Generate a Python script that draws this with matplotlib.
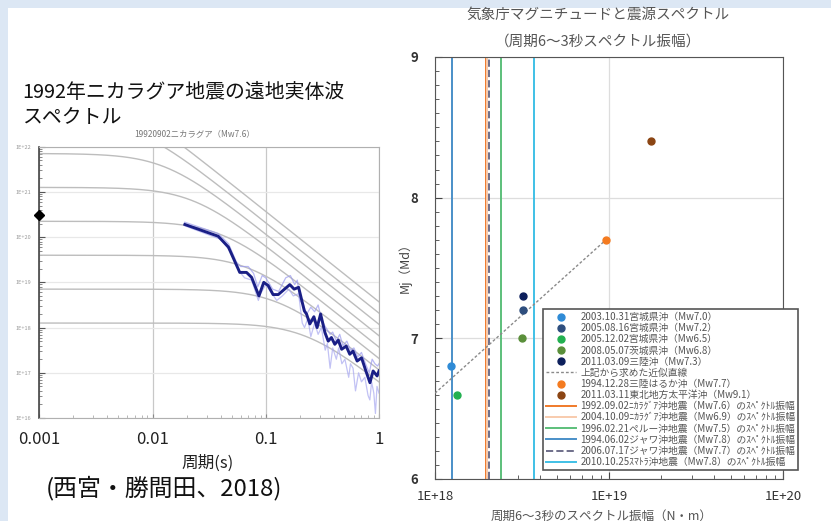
import numpy as np
import matplotlib
matplotlib.use("Agg")
import matplotlib.pyplot as plt
from matplotlib.lines import Line2D
from matplotlib.patches import Rectangle
from matplotlib.ticker import FixedLocator, NullFormatter, LogLocator

plt.rcParams["font.family"] = ["Noto Sans CJK JP", "DejaVu Sans"]

W, H = 831, 521

# --- left panel: teleseismic body-wave spectrum, 1992 Nicaragua ---
# reference omega-square source curves (flat level = log10 M0, corner period)
ref_mw = [6.0, 6.5, 7.0, 7.5, 8.0, 8.5, 9.0, 9.5]
ref_level = [18.1, 18.85, 19.6, 20.35, 21.1, 21.85, 22.6, 23.35]
ref_corner = [0.229, 0.129, 0.0724, 0.0407, 0.0229, 0.0129, 0.00724, 0.00407]

# observed spectrum (smoothed), period [s] and log10 amplitude
obs_period = [0.0193, 0.038, 0.0468, 0.057, 0.0589, 0.0676, 0.075, 0.087, 0.096,
              0.105, 0.116, 0.129, 0.163, 0.178, 0.195, 0.219, 0.229, 0.245,
              0.266, 0.284, 0.305, 0.333, 0.356, 0.380, 0.407, 0.437, 0.468,
              0.513, 0.552, 0.589, 0.641, 0.701, 0.766, 0.832, 0.887, 0.962, 1.0]
obs_amp = [20.28, 20.02, 19.78, 19.30, 19.22, 19.22, 19.11, 18.70, 19.0,
           18.93, 18.73, 18.73, 18.95, 18.85, 18.89, 18.37, 18.30, 18.08,
           18.24, 18.0, 18.30, 17.89, 17.70, 17.78, 17.63, 17.72, 17.52,
           17.59, 17.41, 17.48, 17.26, 17.33, 17.04, 16.78, 17.04, 16.93, 17.04]

# raw component spectra
raw1_period = [0.0193, 0.038, 0.047, 0.055, 0.06, 0.07, 0.078, 0.085, 0.093, 0.1,
               0.115, 0.13, 0.15, 0.165, 0.18, 0.19, 0.2, 0.215, 0.23, 0.25,
               0.27, 0.29, 0.31, 0.33, 0.35, 0.37, 0.39, 0.42, 0.45, 0.48,
               0.52, 0.56, 0.6, 0.65, 0.7, 0.76, 0.82, 0.87, 0.92, 0.97, 1.0]
raw1_amp = [20.33, 20.08, 19.85, 19.45, 19.35, 19.35, 19.2, 18.9, 19.15, 19.1,
            18.85, 18.8, 19.1, 19.15, 18.95, 19.05, 18.6, 18.5, 18.3, 18.45,
            18.35, 18.5, 18.2, 18.05, 17.95, 17.85, 17.9, 17.7, 17.85, 17.6,
            17.7, 17.5, 17.55, 17.35, 17.45, 17.2, 17.0, 17.3, 17.2, 17.15, 17.2]
raw2_period = [0.0193, 0.04, 0.05, 0.058, 0.065, 0.075, 0.086, 0.09, 0.1, 0.11,
               0.125, 0.14, 0.16, 0.175, 0.195, 0.21, 0.22, 0.235, 0.25, 0.27,
               0.29, 0.31, 0.335, 0.35, 0.37, 0.39, 0.42, 0.44, 0.47, 0.5,
               0.54, 0.56, 0.59, 0.62, 0.66, 0.7, 0.75, 0.8, 0.83, 0.86,
               0.9, 0.93, 0.96, 1.0]
raw2_amp = [20.25, 19.95, 19.65, 19.25, 19.1, 19.05, 18.6, 18.75, 18.95, 18.8,
            18.6, 18.7, 18.85, 18.7, 18.75, 18.1, 18.0, 18.2, 17.8, 18.1,
            17.85, 18.0, 17.5, 17.65, 17.1, 17.55, 17.3, 17.55, 17.2, 17.3,
            16.9, 17.2, 17.1, 16.6, 17.0, 16.8, 16.9, 16.5, 16.4, 16.8,
            16.55, 16.1, 16.7, 16.55]

mw_nicaragua = 7.6

# --- right panel: JMA magnitude vs spectral amplitude (6-3 s) ---
pt_labels = ["2003.10.31宮城県沖（Mw7.0）", "2005.08.16宮城県沖（Mw7.2）",
             "2005.12.02宮城県沖（Mw6.5）", "2008.05.07茨城県沖（Mw6.8）",
             "2011.03.09三陸沖（Mw7.3）"]
pt_amp = [1.24e18, 3.19e18, 1.34e18, 3.15e18, 3.19e18]
pt_mj = [6.8, 7.2, 6.6, 7.0, 7.3]
pt_colors = ["#2f8bd6", "#2e4e7e", "#22b050", "#5a8f3a", "#0d1f5c"]

fit_amp = [1.0e18, 9.6e18]
fit_mj = [6.61, 7.7]

big_labels = ["1994.12.28三陸はるか沖（Mw7.7）", "2011.03.11東北地方太平洋沖（Mw9.1）"]
big_amp = [9.6e18, 1.74e19]
big_mj = [7.7, 8.4]
big_colors = ["#f47b20", "#8b4513"]

vl_labels = ["1992.09.02ﾆｶﾗｸﾞｱ沖地震（Mw7.6）のｽﾍﾟｸﾄﾙ振幅",
             "2004.10.09ﾆｶﾗｸﾞｱ沖地震（Mw6.9）のｽﾍﾟｸﾄﾙ振幅",
             "1996.02.21ペルー沖地震（Mw7.5）のｽﾍﾟｸﾄﾙ振幅",
             "1994.06.02ジャワ沖地震（Mw7.8）のｽﾍﾟｸﾄﾙ振幅",
             "2006.07.17ジャワ沖地震（Mw7.7）のｽﾍﾟｸﾄﾙ振幅",
             "2010.10.25ｽﾏﾄﾗ沖地震（Mw7.8）のｽﾍﾟｸﾄﾙ振幅"]
vl_amp = [1.96e18, 2.0e18, 2.39e18, 1.25e18, 2.04e18, 3.72e18]
vl_colors = ["#f07a2a", "#f8cbad", "#5cbf7a", "#4a8fc8", "#6f6f8a", "#3fc0e6"]
vl_styles = ["-", "-", "-", "-", "--", "-"]


def fx(x):
    return x / W


def fy(y):
    return 1 - y / H


fig = plt.figure(figsize=(W / 100, H / 100), dpi=100, facecolor="#dce7f4")
fig.patches.append(Rectangle((fx(8), 0), 1, fy(8), transform=fig.transFigure,
                             facecolor="white", edgecolor="none", zorder=-10))

# left panel
ax = fig.add_axes([fx(39.3), fy(418), fx(379) - fx(39.3), fy(146.7) - fy(418)])
ax.set_xscale("log")
ax.set_yscale("log")
ax.set_xlim(0.001, 1)
ax.set_ylim(1e16, 1e22)

T = np.logspace(-3, 0, 400)
for lev, tc in zip(ref_level, ref_corner):
    ax.plot(T, 10 ** lev / (1 + (T / tc) ** 2), color="#bdbdbd", lw=1.0, zorder=2)

ax.plot(raw1_period, 10 ** np.array(raw1_amp), color="#9a9aee", lw=0.9, alpha=0.7, zorder=3)
ax.plot(raw2_period, 10 ** np.array(raw2_amp), color="#a8a8f0", lw=0.9, alpha=0.7, zorder=3)
ax.plot(obs_period, 10 ** np.array(obs_amp), color="#1a1f86", lw=2.1, zorder=4)
ax.plot([0.001], [10 ** (1.5 * mw_nicaragua + 9.1)], marker="D", ms=5, color="black",
        clip_on=False, zorder=6)

ax.set_xticks([0.001, 0.01, 0.1, 1])
ax.set_xticklabels(["0.001", "0.01", "0.1", "1"], fontsize=12, color="#222222")
ax.xaxis.set_minor_locator(LogLocator(base=10, subs=np.arange(2, 10)))
ax.xaxis.set_minor_formatter(NullFormatter())
ax.set_yticks([10.0 ** k for k in range(16, 23)])
ax.set_yticklabels(["1E+%d" % k for k in range(16, 23)], fontsize=4, color="#999999")
ax.yaxis.set_minor_locator(LogLocator(base=10, subs=np.arange(2, 10)))
ax.yaxis.set_minor_formatter(NullFormatter())
ax.tick_params(axis="x", which="major", direction="in", length=3, color="#888888", pad=9)
ax.tick_params(axis="x", which="minor", direction="in", length=2, color="#aaaaaa")
ax.tick_params(axis="y", which="major", direction="in", length=4, color="#555555", pad=6)
ax.tick_params(axis="y", which="minor", direction="in", length=2, color="#777777")
ax.grid(True, axis="x", which="major", color="#c8c8c8", lw=0.9)
ax.grid(True, axis="y", which="major", color="#e8e8e8", lw=0.9)
for s in ["top", "right", "bottom"]:
    ax.spines[s].set_color("#b0b0b0")
ax.spines["left"].set_color("#444444")
ax.spines["left"].set_linewidth(1.2)
ax.set_axisbelow(True)

fig.text(fx(22), fy(93), "1992年ニカラグア地震の遠地実体波", fontsize=14.3, va="center", color="#111111")
fig.text(fx(22), fy(118), "スペクトル", fontsize=14.3, va="center", color="#111111")
fig.text(fx(195), fy(135), "19920902ニカラグア（Mw7.6）", fontsize=6, ha="center", va="center",
         color="#777777")
fig.text(fx(208), fy(463), "周期(s)", fontsize=12, ha="center", va="center", color="#222222")
fig.text(fx(46), fy(488), "(西宮・勝間田、2018)", fontsize=17.2, ha="left", va="center", color="#111111")

# right panel
bx = fig.add_axes([fx(435), fy(479), fx(783) - fx(435), fy(57) - fy(479)])
bx.set_xscale("log")
bx.set_xlim(1e18, 1e20)
bx.set_ylim(6, 9)

handles = []
for lab, a, m, c in zip(pt_labels, pt_amp, pt_mj, pt_colors):
    bx.plot(a, m, "o", color=c, ms=5, zorder=5)
    handles.append(Line2D([], [], ls="none", marker="o", color=c, ms=5, label=lab))
bx.plot(fit_amp, fit_mj, ls=(0, (2, 1.5)), color="#8a8a8a", lw=1, zorder=3)
handles.append(Line2D([], [], ls=(0, (2, 1.5)), color="#8a8a8a", lw=1, label="上記から求めた近似直線"))
for lab, a, m, c in zip(big_labels, big_amp, big_mj, big_colors):
    bx.plot(a, m, "o", color=c, ms=5, zorder=5)
    handles.append(Line2D([], [], ls="none", marker="o", color=c, ms=5, label=lab))
for lab, a, c, st in zip(vl_labels, vl_amp, vl_colors, vl_styles):
    bx.axvline(a, color=c, ls=st, lw=1.4, zorder=2)
    handles.append(Line2D([], [], color=c, ls=st, lw=1.4, label=lab))

bx.set_yticks([6, 7, 8, 9])
bx.set_yticklabels(["6", "7", "8", "9"], fontsize=9.5, color="#333333", fontweight="bold")
bx.yaxis.set_minor_locator(FixedLocator(np.arange(6, 9.01, 0.1)))
bx.set_xticks([1e18, 1e19, 1e20])
bx.set_xticklabels(["1E+18", "1E+19", "1E+20"], fontsize=9.5, color="#333333")
bx.xaxis.set_minor_locator(LogLocator(base=10, subs=np.arange(2, 10)))
bx.xaxis.set_minor_formatter(NullFormatter())
bx.tick_params(axis="both", which="major", direction="in", length=5, color="#444444")
bx.tick_params(axis="both", which="minor", direction="in", length=3, color="#444444")
bx.tick_params(axis="y", which="major", pad=12)
bx.tick_params(axis="x", which="major", pad=8)
bx.grid(True, which="major", color="#dddddd", lw=0.9)
bx.set_axisbelow(True)
for s in bx.spines.values():
    s.set_color("#555555")

leg = bx.legend(handles=handles, loc="lower left", bbox_to_anchor=(fx(543), fy(470)),
                bbox_transform=fig.transFigure, fontsize=7, labelcolor="#555555",
                frameon=True, fancybox=False, edgecolor="#555555", framealpha=1,
                handlelength=3.1, handletextpad=0.45, labelspacing=0.12,
                borderpad=0.3, borderaxespad=0)
leg.get_frame().set_linewidth(1.2)
leg.set_zorder(10)

fig.text(fx(598), fy(15), "気象庁マグニチュードと震源スペクトル", fontsize=10.5, ha="center",
         va="center", color="#555555")
fig.text(fx(598), fy(42), "（周期6〜3秒スペクトル振幅）", fontsize=10.5, ha="center",
         va="center", color="#555555")
fig.text(fx(602), fy(516), "周期6〜3秒のスペクトル振幅（N・m）", fontsize=9, ha="center",
         va="center", color="#555555")
fig.text(fx(405), fy(265), "Mj（Md）", fontsize=9, ha="center", va="center", rotation=90,
         color="#444444")

fig.savefig("out.png", dpi=100, facecolor=fig.get_facecolor())
